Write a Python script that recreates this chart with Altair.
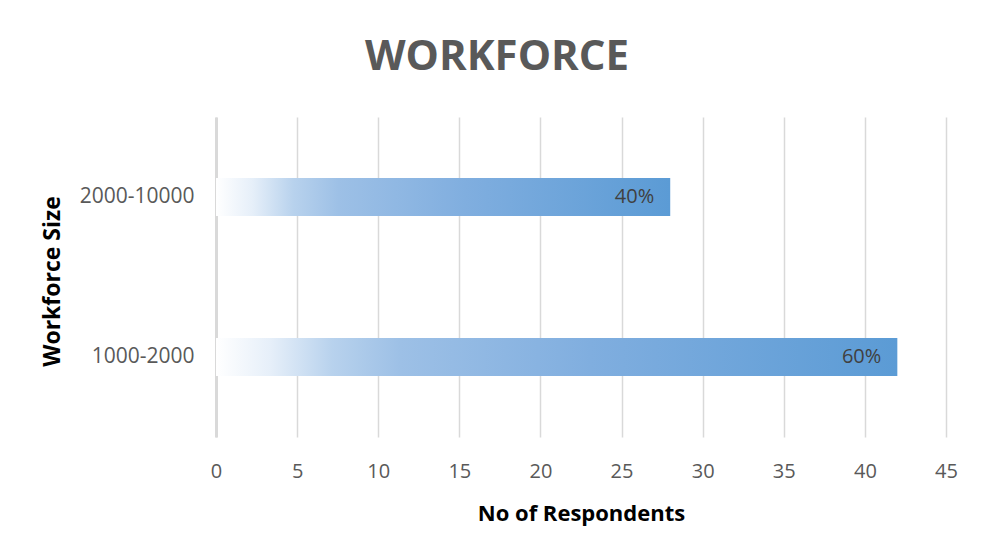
import altair as alt
import pandas as pd

categories = ["2000-10000", "1000-2000"]
respondents = [28, 42]
pct_labels = ["40%", "60%"]
x_ticks = [0, 5, 10, 15, 20, 25, 30, 35, 40, 45]

df = pd.DataFrame({"size": categories, "n": respondents, "pct": pct_labels})

FONT = "Open Sans"

grad = alt.Gradient(
    gradient="linear",
    x1=0, y1=0, x2=1, y2=0,
    stops=[
        alt.GradientStop(color="#ffffff", offset=0.0),
        alt.GradientStop(color="#e6eff9", offset=0.08),
        alt.GradientStop(color="#b8d2ed", offset=0.17),
        alt.GradientStop(color="#9dc0e6", offset=0.27),
        alt.GradientStop(color="#80aedf", offset=0.55),
        alt.GradientStop(color="#5b9bd5", offset=1.0),
    ],
)

x_enc = alt.X(
    "n:Q",
    scale=alt.Scale(domain=[0, 45], nice=False),
    axis=alt.Axis(
        values=x_ticks,
        title="No of Respondents",
        titleFont=FONT, titleFontSize=22, titleFontWeight="bold", titleColor="#000000",
        titleY=76, titleBaseline="middle",
        labelFont=FONT, labelFontSize=20, labelColor="#595959", labelPadding=24,
        labelFlush=False,
        domain=False, ticks=False,
        grid=True, gridColor="#d9d9d9", gridWidth=1.5,
    ),
)
y_enc = alt.Y(
    "size:N",
    sort=categories,
    scale=alt.Scale(paddingInner=0.5, paddingOuter=0.25),
    axis=alt.Axis(
        title="Workforce Size",
        titleFont=FONT, titleFontSize=23, titleFontWeight="bold", titleColor="#000000",
        titleX=-152, titleY=164, titleAngle=-90, titleAlign="center", titleBaseline="bottom",
        labelFont=FONT, labelFontSize=21, labelColor="#595959", labelPadding=22,
        domain=True, domainColor="#d9d9d9", domainWidth=3,
        ticks=False, grid=False,
    ),
)

bars = alt.Chart(df).mark_bar(color=grad, size=38).encode(x=x_enc, y=y_enc)
labels = alt.Chart(df).mark_text(
    align="right", baseline="middle", dx=-16, font=FONT, fontSize=20, color="#404040"
).encode(x="n:Q", y=alt.Y("size:N", sort=categories), text="pct:N")

chart = (
    alt.layer(bars, labels)
    .properties(
        width=730,
        height=320,
        title=alt.TitleParams(
            "WORKFORCE", font=FONT, fontSize=42, fontWeight="bold", color="#595959",
            anchor="middle", dx=-84, offset=38,
        ),
        padding={"left": 208, "top": 109, "right": 32, "bottom": 100},
        autosize=alt.AutoSizeParams(type="none"),
        background="white",
    )
    .configure_view(stroke=None)
)

chart.save("out.html", embed_options={"renderer": "svg", "actions": False})
